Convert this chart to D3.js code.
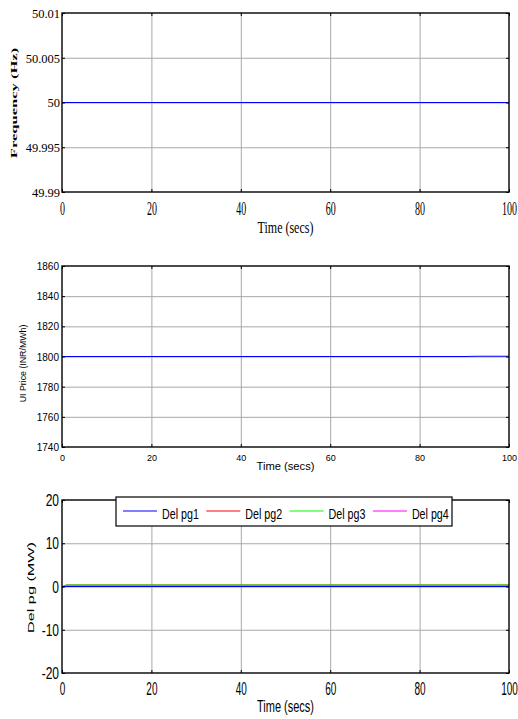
<!DOCTYPE html>
<html>
<head>
<meta charset="utf-8">
<script src="https://cdn.jsdelivr.net/npm/d3@7"></script>
<style>
  body{margin:0;background:#fff;}
</style>
</head>
<body>
<svg id="chart" width="518" height="719"></svg>
<script>
// data
const timeTicks=[0,20,40,60,80,100];
const freqTicks=[49.99,49.995,50,50.005,50.01];
const priceTicks=[1740,1760,1780,1800,1820,1840,1860];
const pgTicks=[-20,-10,0,10,20];

const freqTime=[0,100];
const freqValue=[50,50];

const priceTime=[0,90,93,100];
const priceValue=[1800,1800,1800.15,1800.2];

const pgTime=[0,1,100];
const pg1=[0,0,0];
const pg2=[-0.2,0.3,0.3];
const pg3=[0,0.3,0.3];
const pg4=[0,0,0];
const pgNames=["Del pg1","Del pg2","Del pg3","Del pg4"];
const pgColors=["#0000ff","#ff0000","#00ff00","#ff00ff"];

const serif="'Liberation Serif','Times New Roman',serif";
const sans="'Liberation Sans',Arial,sans-serif";
const left=62, right=509;

let svg=d3.select("#chart");

function panel(o){
  let x=d3.scaleLinear().domain([0,100]).range([left,right]);
  let y=d3.scaleLinear().domain(o.domain).range([o.bottom,o.top]);
  let h=o.bottom-o.top;
  let g=svg.append("g");

  // grid
  g.append("g").attr("transform","translate(0,"+o.bottom+")")
    .call(d3.axisBottom(x).tickValues(timeTicks.slice(1,-1)).tickSize(-h).tickFormat(""))
    .call(a=>a.select(".domain").remove())
    .selectAll("line").attr("stroke","#a8a8a8");
  g.append("g").attr("transform","translate("+left+",0)")
    .call(d3.axisLeft(y).tickValues(o.yTicks.slice(1,-1)).tickSize(-(right-left)).tickFormat(""))
    .call(a=>a.select(".domain").remove())
    .selectAll("line").attr("stroke","#a8a8a8");

  // lines
  o.series.forEach(function(s){
    let pts=s.t.map(function(t,i){return [t,s.v[i]];});
    g.append("path")
      .datum(pts)
      .attr("fill","none")
      .attr("stroke",s.color)
      .attr("stroke-width",o.lw)
      .attr("d",d3.line().x(d=>x(d[0])).y(d=>y(d[1])));
  });

  // inward ticks on all sides
  let tk=3;
  [[d3.axisBottom(x).tickValues(timeTicks),"translate(0,"+o.bottom+")"],
   [d3.axisTop(x).tickValues(timeTicks),"translate(0,"+o.top+")"]].forEach(function(a){
    g.append("g").attr("transform",a[1]).call(a[0].tickSize(-tk).tickFormat(""))
      .call(s=>s.select(".domain").remove());
  });
  [[d3.axisLeft(y).tickValues(o.yTicks),"translate("+left+",0)"],
   [d3.axisRight(y).tickValues(o.yTicks),"translate("+right+",0)"]].forEach(function(a){
    g.append("g").attr("transform",a[1]).call(a[0].tickSize(-tk).tickFormat(""))
      .call(s=>s.select(".domain").remove());
  });

  g.append("rect")
    .attr("x",left).attr("y",o.top)
    .attr("width",right-left).attr("height",h)
    .attr("fill","none").attr("stroke","#000").attr("stroke-width",1.4);

  // x tick labels
  let xt=o.xTick;
  g.append("g").attr("transform","translate(0,"+o.bottom+")")
    .call(d3.axisBottom(x).tickValues(timeTicks).tickSize(0).tickFormat(d=>String(d)))
    .call(a=>a.select(".domain").remove())
    .selectAll("text")
    .attr("y",0).attr("dy",0)
    .attr("transform","translate(0,"+xt.off+") scale("+xt.sx+","+xt.sy+")")
    .style("font-family",o.font).style("font-size",xt.fs+"px").attr("fill","#000");

  // y tick labels
  let yt=o.yTick;
  g.append("g").attr("transform","translate("+left+",0)")
    .call(d3.axisLeft(y).tickValues(o.yTicks).tickSize(0).tickFormat(d=>String(d)))
    .call(a=>a.select(".domain").remove())
    .selectAll("text")
    .attr("x",0).attr("dy",0)
    .attr("transform","translate("+(-yt.pad)+","+(0.35*yt.fs*yt.sy)+") scale("+yt.sx+","+yt.sy+")")
    .style("font-family",o.font).style("font-size",yt.fs+"px").attr("fill","#000");

  // axis titles
  let xl=o.xLabel;
  g.append("text")
    .attr("transform","translate("+((left+right)/2)+","+xl.base+") scale(1,"+xl.sy+")")
    .attr("text-anchor","middle")
    .style("font-family",o.font).style("font-size",xl.fs+"px")
    .text("Time (secs)");

  let yl=o.yLabel;
  g.append("text")
    .attr("transform","translate("+yl.cx+","+yl.cy+") rotate(-90) scale("+yl.sl+",1)")
    .attr("text-anchor","middle")
    .attr("dominant-baseline","central")
    .style("font-family",o.font).style("font-size",yl.fs+"px")
    .style("font-weight",yl.bold?"bold":"normal")
    .text(yl.text);

  return g;
}

panel({
  top:13,bottom:192,domain:[49.99,50.01],yTicks:freqTicks,font:serif,lw:1.1,
  series:[{t:freqTime,v:freqValue,color:"#0000ff"}],
  xTick:{fs:10,sx:1,sy:1.9,off:23},
  yTick:{fs:12.5,sx:1,sy:1,pad:2},
  xLabel:{fs:12,sy:1.45,base:233},
  yLabel:{text:"Frequency (Hz)",fs:9.2,sl:1.8,cx:14,cy:103,bold:true}
});

panel({
  top:266,bottom:447,domain:[1740,1860],yTicks:priceTicks,font:sans,lw:1.1,
  series:[{t:priceTime,v:priceValue,color:"#0000ff"}],
  xTick:{fs:9,sx:1,sy:1.05,off:14},
  yTick:{fs:10,sx:1,sy:1,pad:3},
  xLabel:{fs:11.2,sy:1.05,base:469.5},
  yLabel:{text:"UI Price (INR/MWh)",fs:8.8,sl:1,cx:22.5,cy:363.5,bold:false}
});

let p3=panel({
  top:500,bottom:673,domain:[-20,20],yTicks:pgTicks,font:sans,lw:1.2,
  series:[
    {t:pgTime,v:pg4,color:pgColors[3]},
    {t:pgTime,v:pg2,color:pgColors[1]},
    {t:pgTime,v:pg3,color:pgColors[2]},
    {t:pgTime,v:pg1,color:pgColors[0]}
  ],
  xTick:{fs:10,sx:1,sy:1.8,off:22},
  yTick:{fs:12,sx:1,sy:1.36,pad:3},
  xLabel:{fs:11,sy:1.5,base:712},
  yLabel:{text:"Del pg (MW)",fs:9,sl:1.8,cx:31,cy:587.5,bold:false}
});

// legend
let legend=p3.append("g");
legend.append("rect")
  .attr("x",116).attr("y",497).attr("width",336).attr("height",29)
  .attr("fill","#fff").attr("stroke","#000").attr("stroke-width",1.2);
let item=legend.selectAll("g.item")
  .data(pgNames)
  .enter().append("g")
  .attr("class","item")
  .attr("transform",function(d,i){return "translate("+(123+i*83.3)+",511)";});
item.append("line")
  .attr("x1",0).attr("x2",34).attr("y1",0).attr("y2",0)
  .attr("stroke",(d,i)=>pgColors[i]).attr("stroke-width",1.2);
item.append("text")
  .attr("transform","translate(39,8.3) scale(1,1.42)")
  .style("font-family",sans).style("font-size","10.7px")
  .text(d=>d);
</script>
</body>
</html>
